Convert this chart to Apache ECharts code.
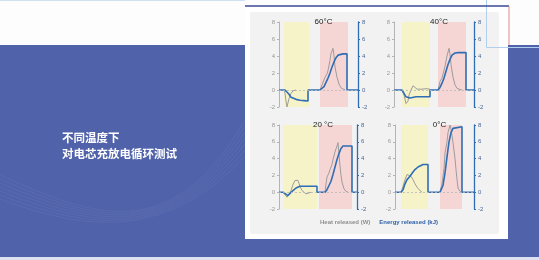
<!DOCTYPE html>
<html><head><meta charset="utf-8">
<script src="https://cdn.jsdelivr.net/npm/echarts@6/dist/echarts.min.js"></script>
<style>html,body{margin:0;padding:0;background:#fff}#c{width:539px;height:260px}</style>
</head><body><div id="c"></div>
<script>
// ---------- data ----------
const temps = ['60°C', '40°C', '20 °C', '0°C'];
const yMin = -2, yMax = 8, yStep = 2;
const timeSpan = [79, 80, 78, 79];
const chargeWindow = [[5, 30], [8, 36], [4, 38], [6, 33]];
const dischargeWindow = [[41, 69], [44, 72], [40, 73], [45, 67]];

const heat60 = [[5,0],[6,-0.4],[7,-1.3],[8,-2.0],[9,-1.8],[10,-1.0],[12,-0.4],[14,-0.1],[17,0],null,
  [41,0],[43,0.6],[46,1.5],[48,1.9],[49,2.3],[51,3.5],[52,4.3],[54,4.9],[55,4.0],[56,2.7],[58,1.5],[60,0.7],[62,0.25],[64,0.05],[66,0]];
const energy60 = [[0,0],[6,0],[8,-0.2],[10,-0.5],[12,-0.85],[14,-1.0],[17,-1.1],[21,-1.2],[25,-1.25],[29,-1.3],[29,0],
  [41,0],[43,0.1],[45,0.4],[47,0.9],[49,1.4],[51,2.0],[53,2.7],[55,3.3],[57,3.8],[59,4.1],[61,4.2],[64,4.25],[68,4.25],[68,0],[79,0]];

const heat40 = [[8,0],[10,-0.6],[12,-1.6],[13,-1.7],[14,-1.3],[15,-0.6],[17,0.0],[19,0.5],[20,0.7],[21,0.5],[23,0.1],[25,-0.1],[28,0.1],[32,0.15],[36,0.1],null,
  [44,0],[46,1.0],[48,1.4],[49,1.6],[51,2.8],[53,4.0],[55,4.9],[56,4.2],[57,3.0],[59,1.5],[61,0.6],[63,0.2],[66,0.05],[68,0]];
const energy40 = [[0,0],[8,0],[10,-0.4],[12,-0.8],[14,-1.0],[16,-0.95],[18,-0.85],[22,-0.8],[28,-0.8],[36,-0.8],[36,0],
  [44,0],[46,0.3],[48,0.8],[50,1.4],[52,2.2],[54,3.0],[56,3.6],[58,4.1],[61,4.35],[64,4.4],[72,4.4],[72,0],[80,0]];

const heat20 = [[4,0],[6,-0.3],[8,-0.6],[10,-0.4],[12,0.2],[14,0.9],[16,1.4],[18,1.6],[19,1.4],[21,0.7],[23,0.2],[25,0],[27,-0.2],[29,-0.15],[32,0],null,
  [46,0],[47,1.0],[48,1.8],[50,2.3],[51,2.7],[53,3.3],[54,3.9],[56,4.8],[58,5.5],[59,5.9],[60,4.5],[61,3.1],[62,2.0],[63,1.2],[65,0.4],[67,0.1],[69,0]];
const energy20 = [[0,0],[4,0],[6,-0.2],[9,-0.4],[11,-0.2],[14,0.2],[17,0.5],[21,0.7],[38,0.7],[38,0],
  [46,0],[48,0.3],[50,0.8],[52,1.3],[54,2.1],[56,3.0],[58,3.9],[60,4.6],[62,5.2],[64,5.5],[73,5.5],[73,0],[78,0]];

const heat0 = [[6,0],[7,0.3],[8,0.7],[10,1.5],[12,2.1],[14,2.2],[16,1.9],[18,1.5],[20,1.0],[22,0.6],[24,0.3],[25,0.1],[27,0],null,
  [45,0],[47,1.0],[49,2.8],[50,4.7],[52,6.0],[53,7.1],[55,8.0],[56,7.5],[58,5.9],[60,4.0],[61,2.7],[62,1.5],[63,0.5],[65,0.1],[66,0]];
const energy0 = [[0,0],[6,0],[8,0.3],[10,1.0],[12,1.5],[15,1.9],[18,2.4],[20,2.7],[23,3.0],[25,3.2],[28,3.3],[33,3.3],[33,0],
  [45,0],[47,0.2],[48,0.8],[50,2.3],[52,4.2],[54,6.0],[56,7.1],[58,7.6],[60,7.8],[67,7.8],[67,0],[79,0]];

const heatSeries = [heat60, heat40, heat20, heat0];
const energySeries = [energy60, energy40, energy20, energy0];
const heatName = 'Heat released (W)';
const energyName = 'Energy released (kJ)';
const titleLines = ['不同温度下', '对电芯充放电循环测试'];

// ---------- layout / style ----------
const grids = [
  {left: 279, top: 22, width: 79, height: 85},
  {left: 394, top: 22, width: 80, height: 85},
  {left: 279, top: 125, width: 78, height: 84},
  {left: 395, top: 125, width: 79, height: 84}
];
const GREY = '#9c9c9c', BLUE = '#2f6db5';
const YELLOW = '#f6f3c9', PINK = '#f6d5d5';
const BG = '#5062aa';

const chart = echarts.init(document.getElementById('c'), null, {renderer: 'canvas'});
const xAxis = [], yAxis = [], series = [], title = [];
grids.forEach((g, i) => {
  xAxis.push({type: 'value', gridIndex: i, min: 0, max: timeSpan[i], show: false});
  const common = {type: 'value', gridIndex: i, min: yMin, max: yMax, interval: yStep,
    splitLine: {show: false}, axisTick: {show: true, length: 2}};
  yAxis.push(Object.assign({}, common, {position: 'left',
    axisLine: {show: true, lineStyle: {color: '#b4b4b4', width: 1}},
    axisTick: {show: true, length: 2, lineStyle: {color: '#b4b4b4'}},
    axisLabel: {fontSize: 6, color: '#9a9a9a', margin: 4, fontFamily: 'Liberation Sans'}}));
  yAxis.push(Object.assign({}, common, {position: 'right',
    axisLine: {show: true, lineStyle: {color: BLUE, width: 1.3}},
    axisTick: {show: true, length: 2, lineStyle: {color: BLUE}},
    axisLabel: {fontSize: 6, color: '#4a6795', margin: 4, fontFamily: 'Liberation Sans'}}));
  title.push({text: temps[i], left: g.left + g.width / 2, top: g.top - 9, textAlign: 'center',
    textStyle: {fontSize: 8, fontWeight: 'normal', color: '#222', fontFamily: 'Liberation Sans'}});
  series.push({
    name: heatName, type: 'line', xAxisIndex: i, yAxisIndex: 2 * i, data: heatSeries[i],
    symbol: 'none', connectNulls: false, z: 3,
    lineStyle: {color: GREY, width: 1}, itemStyle: {color: GREY},
    markArea: {silent: true, data: [
      [{xAxis: chargeWindow[i][0], itemStyle: {color: YELLOW}}, {xAxis: chargeWindow[i][1]}],
      [{xAxis: dischargeWindow[i][0], itemStyle: {color: PINK}}, {xAxis: dischargeWindow[i][1]}]
    ]},
    markLine: {silent: true, symbol: 'none', label: {show: false},
      lineStyle: {color: '#b8b8b8', type: [2, 2], width: 0.8}, data: [{yAxis: 0}]}
  });
  series.push({
    name: energyName, type: 'line', xAxisIndex: i, yAxisIndex: 2 * i + 1, data: energySeries[i],
    symbol: 'none', z: 4, lineStyle: {color: BLUE, width: 1.6}, itemStyle: {color: BLUE}
  });
});

// faint decorative wave lines in the blue background
const waves = [];
for (let k = 0; k < 7; k++) {
  waves.push({type: 'bezierCurve', silent: true, z: -8,
    shape: {x1: 0, y1: 175 + k * 4, cpx1: 90, cpy1: 215 + k * 3, cpx2: 170, cpy2: 250 - k * 2, x2: 245, y2: 120 + k * 6},
    style: {stroke: 'rgba(255,255,255,0.05)', lineWidth: 1, fill: null}});
}

const graphic = [
  {type: 'rect', shape: {x: 0, y: 0, width: 539, height: 260}, style: {fill: BG}, z: -10, silent: true},
  ...waves,
  {type: 'rect', shape: {x: 0, y: 0, width: 539, height: 45}, style: {fill: '#fdfdfd'}, z: -7, silent: true},
  {type: 'line', shape: {x1: 0, y1: 0.5, x2: 245, y2: 0.5}, style: {stroke: '#cfe0f2', lineWidth: 1}, z: -6},
  {type: 'rect', shape: {x: 0, y: 257, width: 539, height: 3}, style: {fill: '#dde0f0'}, z: -7, silent: true},
  // panel
  {type: 'rect', shape: {x: 245, y: 6, width: 263, height: 233}, style: {fill: '#ffffff'}, z: -5, silent: true},
  {type: 'rect', shape: {x: 250, y: 12, width: 249, height: 222, r: 2}, style: {fill: '#f2f2f3'}, z: -4, silent: true},
  {type: 'line', shape: {x1: 245, y1: 6, x2: 509, y2: 6}, style: {stroke: '#3a4796', lineWidth: 1.5}, z: 20},
  {type: 'line', shape: {x1: 509, y1: 6, x2: 509, y2: 45}, style: {stroke: '#e28a8a', lineWidth: 1}, z: 20},
  // small box top-right
  {type: 'polyline', shape: {points: [[486.5, 0], [486.5, 47.5], [539, 47.5]]}, style: {stroke: '#b2d0ee', lineWidth: 1, fill: null}, z: 19},
  // heading text
  {type: 'text', left: 62, top: 132, style: {text: titleLines[0], fill: '#ffffff', font: 'bold 11.5px "Noto Sans CJK SC"'}, z: 10},
  {type: 'text', left: 62, top: 148, style: {text: titleLines[1], fill: '#ffffff', font: 'bold 11.5px "Noto Sans CJK SC"'}, z: 10}
];

chart.setOption({
  animation: false,
  grid: grids.map(g => Object.assign({containLabel: false}, g)),
  title, xAxis, yAxis, series, graphic,
  legend: {
    left: 310, top: 214, icon: 'none', itemWidth: 0, itemHeight: 0, itemGap: 4, selectedMode: false,
    data: [
      {name: heatName, textStyle: {color: '#8e8e8e'}},
      {name: energyName, textStyle: {color: '#2f62a8'}}
    ],
    textStyle: {fontSize: 6, fontWeight: 'bold', fontFamily: 'Liberation Sans', padding: 0}
  }
});
</script>
</body></html>
